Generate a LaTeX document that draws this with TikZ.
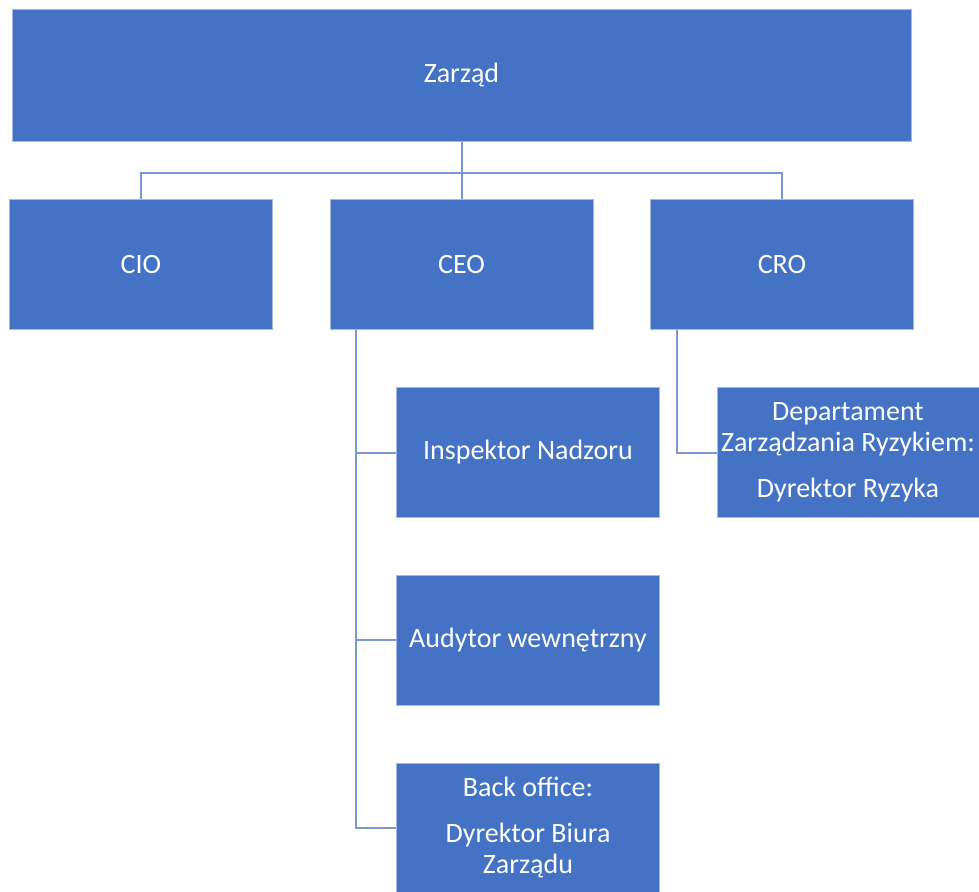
\documentclass[tikz,border=0pt]{standalone}
\usepackage{fontspec}
\setmainfont{Carlito}
\usepackage{xcolor}
\usetikzlibrary{positioning,calc}

\definecolor{boxblue}{HTML}{4472C4}
\definecolor{lineblue}{HTML}{7C98D2}
\definecolor{edgeblue}{HTML}{A4B8E2}

\begin{document}
\begin{tikzpicture}[x=1pt, y=-1pt,
    box/.style = {draw=edgeblue, line width=1pt, fill=boxblue, text=white,
      minimum width=263pt, minimum height=130pt, inner sep=0pt, align=center,
      font=\fontsize{28}{31}\selectfont},
    link/.style = {draw=lineblue, line width=2pt}
  ]
  \useasboundingbox (0,0) rectangle (979,891);
  % top level
  \node[box, minimum width=899pt, minimum height=131pt] (zarzad) at (461.5,75.5) {Zarząd};
  \node[box] (cio) at (141,264.5) {CIO};
  \node[box] (ceo) at (461.5,264.5) {CEO};
  \node[box] (cro) at (782,264.5) {CRO};
  % under CEO
  \node[box] (insp) at (528,452.5) {Inspektor Nadzoru};
  \node[box] (audyt) at (528,640) {Audytor wewnętrzny};
  \node[box] (back) at (528,828) {Back office:\\[15pt]Dyrektor Biura\\Zarządu};
  % under CRO
  \node[box, minimum width=262pt] (dept) at (848,452.5)
    {Departament\\Zarządzania Ryzykiem:\\[15pt]Dyrektor Ryzyka};

  \coordinate (zbus) at ($(zarzad.south)+(0,31)$);
  \draw[link] (zarzad.south) -- (zbus);
  \foreach \n in {cio,ceo,cro}
    \draw[link] (zbus) -| (\n.north);

  \coordinate (ceotrunk) at ($(ceo.south west)+(26,0)$);
  \foreach \n in {insp,audyt,back}
    \draw[link] (ceotrunk) |- (\n.west);

  \coordinate (crotrunk) at ($(cro.south west)+(27,0)$);
  \draw[link] (crotrunk) |- (dept.west);
\end{tikzpicture}
\end{document}
